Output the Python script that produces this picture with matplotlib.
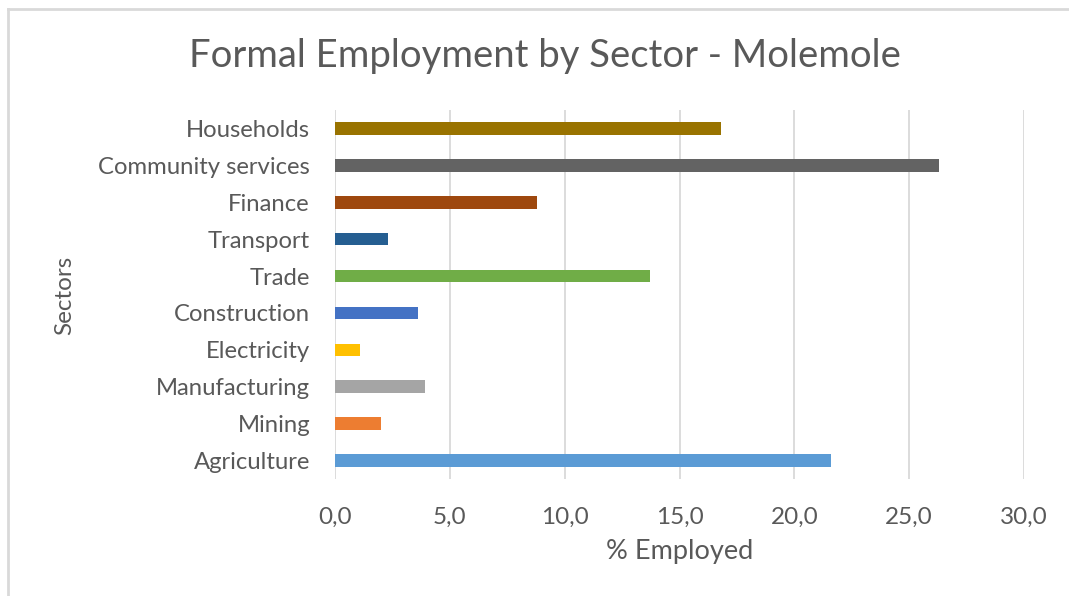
import matplotlib
matplotlib.use("Agg")
import matplotlib.pyplot as plt
from matplotlib.ticker import FuncFormatter
from matplotlib.lines import Line2D

sectors = ["Agriculture", "Mining", "Manufacturing", "Electricity", "Construction",
           "Trade", "Transport", "Finance", "Community services", "Households"]
employed = [21.6, 2.0, 3.9, 1.1, 3.6, 13.7, 2.3, 8.8, 26.3, 16.8]
colors = ["#5B9BD5", "#ED7D31", "#A5A5A5", "#FFC000", "#4472C4",
          "#70AD47", "#255E91", "#9E480E", "#636363", "#997300"]
xticks = [0, 5, 10, 15, 20, 25, 30]

plt.rcParams['font.family'] = ['Lato', 'DejaVu Sans']
txt = "#595959"

W, H = 1069, 596
fig = plt.figure(figsize=(W / 100, H / 100), dpi=100)
ax = fig.add_axes([335 / W, 1 - 479 / H, (1024 - 335) / W, (479 - 110) / H])

ax.barh(range(len(sectors)), employed, height=0.34, color=colors, zorder=3)
ax.set_xlim(0, 30)
ax.set_ylim(-0.5, len(sectors) - 0.5)
ax.set_xticks(xticks)
ax.xaxis.set_major_formatter(FuncFormatter(lambda v, p: f"{v:.1f}".replace(".", ",")))
ax.set_yticks(range(len(sectors)))
ax.set_yticklabels(sectors)
ax.grid(axis="x", color="#d9d9d9", linewidth=1.3, zorder=0)
for s in ax.spines.values():
    s.set_visible(False)
ax.tick_params(axis="x", length=0, labelsize=17.5, colors=txt, pad=20)
ax.tick_params(axis="y", length=0, labelsize=17.2, colors=txt, pad=18)

fig.text(680 / W, 1 - 551 / H, "% Employed", ha="center", va="center",
         fontsize=19.5, color=txt)
fig.text(65 / W, 1 - 295 / H, "Sectors", ha="center", va="center",
         fontsize=17.5, color=txt, rotation=90)

fig.text(545 / W, 1 - 56 / H, "Formal Employment by Sector - Molemole",
         ha="center", va="center", fontsize=27.5, color=txt)

fig.add_artist(Line2D([8 / W, 8 / W], [0, 1 - 9 / H], transform=fig.transFigure,
                      color="#d9d9d9", linewidth=2))
fig.add_artist(Line2D([8 / W, 1], [1 - 9 / H, 1 - 9 / H], transform=fig.transFigure,
                      color="#d9d9d9", linewidth=2))

fig.savefig("out.png", dpi=100, facecolor="white")
